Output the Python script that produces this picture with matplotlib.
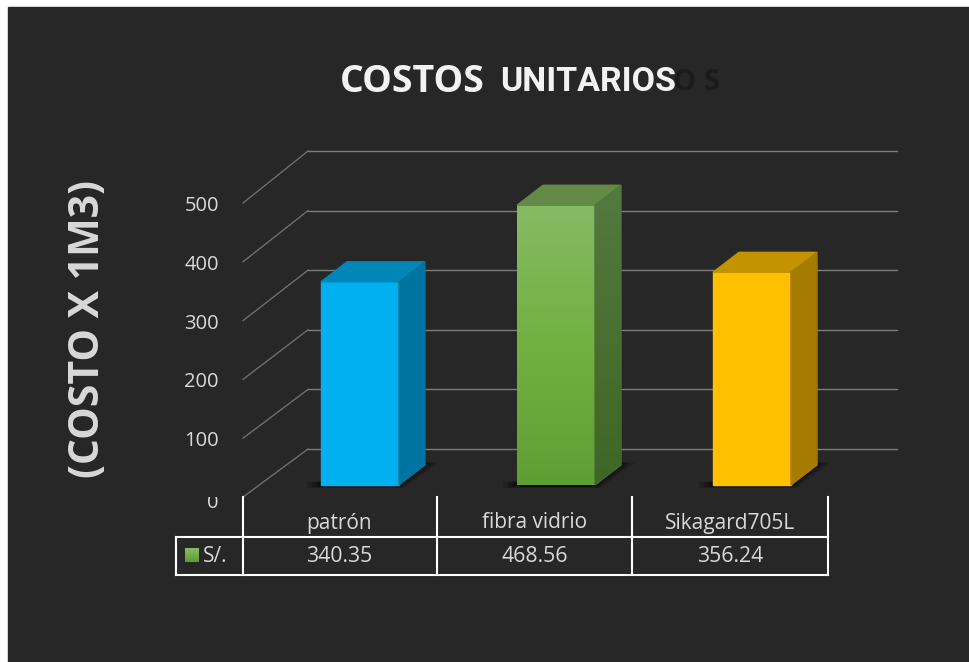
import matplotlib; matplotlib.use("Agg")
import matplotlib.pyplot as plt
from matplotlib.patches import Polygon, Rectangle
from matplotlib.colors import LinearSegmentedColormap
import numpy as np

categories = ["patrón", "fibra vidrio", "Sikagard705L"]
values = [340.35, 468.56, 356.24]
value_labels = ["340.35", "468.56", "356.24"]
yticks = [0, 100, 200, 300, 400, 500]
series_name = "S/."

plt.rcParams['font.family'] = ['Open Sans', 'DejaVu Sans']

bg = "#272727"
W, H = 969, 662
fig = plt.figure(figsize=(W / 100, H / 100), dpi=100, facecolor="white")
ax = fig.add_axes([0, 0, 1, 1])
ax.set_xlim(0, W)
ax.set_ylim(H, 0)
ax.axis("off")
ax.add_patch(Rectangle((8, 7), W - 8, H - 7, color=bg, zorder=0))

# value -> pixel, front of the bars
y0 = 485
def py(v):
    return y0 - v * 0.597

# gridlines: side wall then back wall
for v in yticks:
    yl = 497 - v * 0.588
    yb = 449 - v * 0.596
    ax.plot([243, 308], [yl, yb], color="#6e6e6e", lw=1, zorder=1)
    ax.plot([308, 897], [yb, yb], color="#7c7c7c", lw=1, zorder=1)
    t = ax.text(219, yl + 3 if v else 503, str(v), color="#d9d9d9", fontsize=14.5, ha="right", va="center", zorder=5)
    if v == 0:
        # the zero is cut off at its top in the original
        t.set_clip_on(True)
        t.set_clip_path(Rectangle((190, 497), 40, 20, transform=ax.transData))

# bars
bar_w = 78
side_x = 26
side_y = 20
lefts = [321, 517, 713]
fronts = ["#00b0f0", None, "#ffc000"]
tops = ["#0087b8", "#648a48", "#c49400"]
sides = ["#0074a0", None, "#a57c00"]
green = LinearSegmentedColormap.from_list("g", ["#86bb64", "#72b040", "#5f9e33"])
green_side = LinearSegmentedColormap.from_list("gs", ["#55793e", "#3e6626"])

for left, val, fc, tc, sc in zip(lefts, values, fronts, tops, sides):
    top = py(val)
    right = left + bar_w
    # soft shadow, stacked transparent polygons
    for grow, a in zip([14, 9, 5, 2], [0.25, 0.35, 0.45, 0.6]):
        ax.add_patch(Polygon([(left - grow, y0 + 1 + grow * 0.15), (right + grow * 0.3, y0 + 1 + grow * 0.15),
                              (right + side_x + grow, y0 - 21 - grow * 0.1), (right + side_x, y0 - 23),
                              (right, y0 - 5), (left - grow, y0 - 3)],
                             facecolor="#0c0c0c", edgecolor="none", alpha=a, zorder=2))
    if fc is None:
        grad = np.linspace(0, 1, 200).reshape(-1, 1)
        ax.imshow(grad, cmap=green, extent=(left, right, y0, top), aspect="auto", zorder=3)
    else:
        ax.add_patch(Rectangle((left, top), bar_w, y0 - top, color=fc, zorder=3))
    ax.add_patch(Polygon([(left, top), (right, top), (right + side_x, top - side_y),
                          (left + side_x, top - side_y)], color=tc, zorder=3))
    side = Polygon([(right, top), (right + side_x, top - side_y),
                    (right + side_x, y0 - side_y), (right, y0)], color=sc if sc else "#4f7338", zorder=3)
    ax.add_patch(side)
    if sc is None:
        grad = np.linspace(0, 1, 200).reshape(-1, 1)
        im = ax.imshow(grad, cmap=green_side, extent=(right, right + side_x, y0, top - side_y), aspect="auto", zorder=3.1)
        im.set_clip_path(side)
ax.set_xlim(0, W)
ax.set_ylim(H, 0)

# data table
cols = [243, 437, 632, 828]
ax.plot([176, 828], [537, 537], color="white", lw=1.5, zorder=4)
ax.plot([176, 828], [575, 575], color="white", lw=1.5, zorder=4)
ax.plot([176, 176], [537, 575], color="white", lw=1.5, zorder=4)
for x in cols:
    ax.plot([x, x], [497, 575], color="white", lw=1.5, zorder=4)
cat_x = [339.5, 534.5, 730]
for i in range(3):
    ax.text(cat_x[i], 523, categories[i], color="#d9d9d9", fontsize=15, ha="center", va="center")
    ax.text(cat_x[i], 557, value_labels[i], color="#d9d9d9", fontsize=15.3, ha="center", va="center")
grad = np.linspace(0, 1, 20).reshape(-1, 1)
ax.imshow(grad, cmap=LinearSegmentedColormap.from_list("l", ["#86bb64", "#5f9e33"]),
          extent=(185, 199, 562, 548), aspect="auto", zorder=4)
ax.set_xlim(0, W)
ax.set_ylim(H, 0)
ax.text(203, 556, series_name, color="#d9d9d9", fontsize=15, ha="left", va="center")

# titles
ax.text(673, 83, "O S", color="#1b1b1b", fontsize=21, fontweight="bold", ha="left", va="center", zorder=2)
ax.text(340, 82, "COSTOS", color="#f2f2f2", fontsize=27, fontweight="bold", ha="left", va="center", zorder=3)
ax.text(500, 82, "UNITARIOS", color="#f2f2f2", fontsize=24.5, fontweight="bold", ha="left", va="center", zorder=3,
        family=['Roboto', 'Open Sans'])
ax.text(89, 329, "(COSTO X 1M3)", color="#d9d9d9", fontsize=29.5, fontweight="bold", rotation=90, ha="center", va="center")

fig.savefig("out.png", dpi=100)
